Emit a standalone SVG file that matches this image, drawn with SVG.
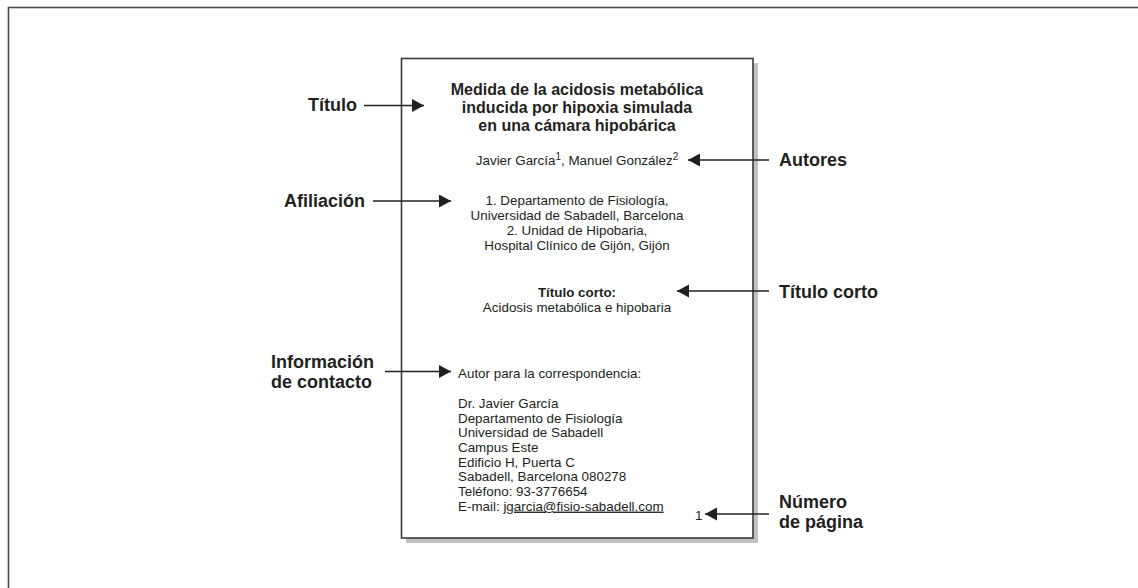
<svg xmlns="http://www.w3.org/2000/svg" width="1138" height="588" viewBox="0 0 1138 588">
<style>
.t{font-family:"Liberation Sans",Arial,sans-serif;fill:#231f20}
.lbl{font-size:18px;font-weight:bold}
.body{font-size:13.4px}
.ttl{font-size:16px;font-weight:bold}
.con{stroke:#231f20;stroke-width:1.5;fill:none;marker-end:url(#ah)}
</style>
<defs>
<marker id="ah" markerUnits="userSpaceOnUse" markerWidth="14" markerHeight="14" refX="12" refY="6.5" orient="auto">
<path d="M0,0 L12,6.5 L0,13 Z" fill="#231f20"/>
</marker>
</defs>
<rect width="1138" height="588" fill="#ffffff"/>
<g id="frame">
<rect x="8.5" y="7.5" width="1140" height="600" fill="none" stroke="#4a4a4a" stroke-width="1.6"/>
</g>
<g id="page">
<rect x="406" y="63" width="352" height="480" fill="#c1c2c6"/>
<rect x="401.5" y="58.5" width="351.5" height="479.5" fill="#ffffff" stroke="#3a3a3a" stroke-width="1.6"/>
<g class="t" text-anchor="middle">
<text class="ttl" x="577" y="95">Medida de la acidosis metabólica</text>
<text class="ttl" x="577" y="113">inducida por hipoxia simulada</text>
<text class="ttl" x="577" y="131">en una cámara hipobárica</text>
<text class="body" x="577" y="165">Javier García<tspan font-size="10" dy="-5.5">1</tspan><tspan dy="5.5">, Manuel González</tspan><tspan font-size="10" dy="-5.5">2</tspan></text>
<text class="body" x="577" y="205">1. Departamento de Fisiología,</text>
<text class="body" x="577" y="220">Universidad de Sabadell, Barcelona</text>
<text class="body" x="577" y="235">2. Unidad de Hipobaria,</text>
<text class="body" x="577" y="250">Hospital Clínico de Gijón, Gijón</text>
<text class="body" x="577" y="297" font-weight="bold">Título corto:</text>
<text class="body" x="577" y="312">Acidosis metabólica e hipobaria</text>
</g>
<g class="t">
<text class="body" x="458" y="378">Autor para la correspondencia:</text>
<text class="body" x="458" y="408">Dr. Javier García</text>
<text class="body" x="458" y="422.6">Departamento de Fisiología</text>
<text class="body" x="458" y="437.3">Universidad de Sabadell</text>
<text class="body" x="458" y="452">Campus Este</text>
<text class="body" x="458" y="466.6">Edificio H, Puerta C</text>
<text class="body" x="458" y="481.3">Sabadell, Barcelona 080278</text>
<text class="body" x="458" y="496">Teléfono: 93-3776654</text>
<text class="body" x="458" y="510.6">E-mail: <tspan text-decoration="underline">jgarcia@fisio-sabadell.com</tspan></text>
<text class="body" x="695" y="520" font-size="14">1</text>
</g>
</g>
<g id="label-titulo" class="t"><text class="lbl" x="357" y="111" text-anchor="end">Título</text></g>
<g id="label-afiliacion" class="t"><text class="lbl" x="365" y="207" text-anchor="end">Afiliación</text></g>
<g id="label-contacto" class="t"><text class="lbl" x="271" y="367.5">Información</text><text class="lbl" x="271" y="388">de contacto</text></g>
<g id="label-autores" class="t"><text class="lbl" x="779" y="166">Autores</text></g>
<g id="label-titulo-corto" class="t"><text class="lbl" x="779" y="298">Título corto</text></g>
<g id="label-numero" class="t"><text class="lbl" x="779" y="507.5">Número</text><text class="lbl" x="779" y="527.5">de página</text></g>
<g id="connectors">
<line class="con" x1="364" y1="105.5" x2="424" y2="105.5"/>
<line class="con" x1="373" y1="201" x2="451" y2="201"/>
<line class="con" x1="385" y1="371.5" x2="451" y2="371.5"/>
<line class="con" x1="769" y1="160" x2="688" y2="160"/>
<line class="con" x1="769" y1="291" x2="677" y2="291"/>
<line class="con" x1="769" y1="514" x2="705" y2="514"/>
</g>
</svg>
